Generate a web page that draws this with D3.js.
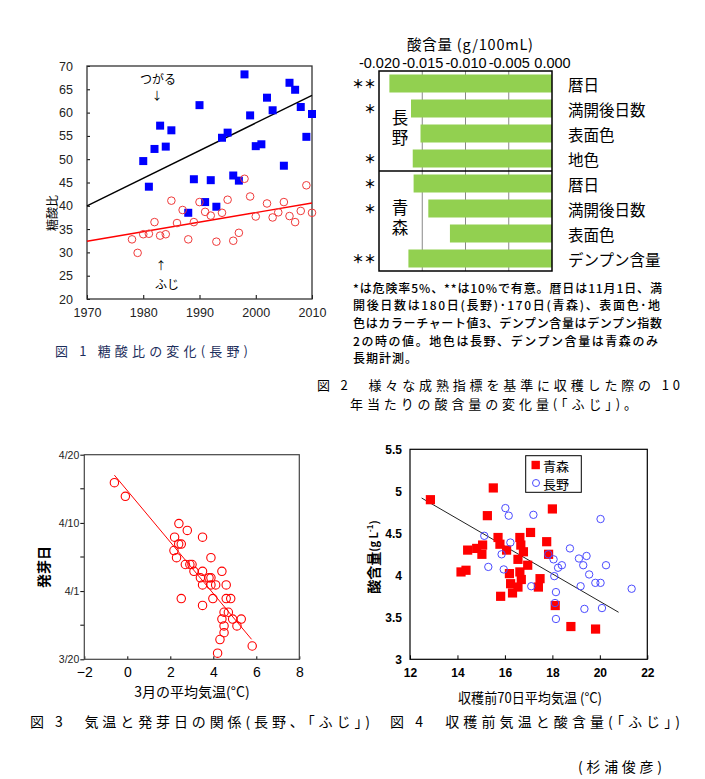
<!DOCTYPE html>
<html><head><meta charset="utf-8">
<script src="https://cdn.jsdelivr.net/npm/d3@7"></script>
<style>body{margin:0;background:#fff}svg{display:block}</style>
</head><body>
<script>
// ---------- DATA ----------
// Fig 1: sugar/acid ratio (Nagano)
const fig1Tsugaru = [[1980,49.6],[1981,44.1],[1982,52.2],[1983,57.2],[1984,52.7],[1985,56.2],[1988,38.5],[1989,45.7],[1990,61.6],[1991,40.8],[1992,45.5],[1993,39.8],[1994,54.6],[1995,55.7],[1996,46.5],[1997,45.4],[1998,68.2],[1999,59.4],[2000,52.8],[2001,53.2],[2002,63.2],[2003,60.5],[2005,48.6],[2006,66.4],[2007,64.9],[2008,61.2],[2009,54.8],[2010,59.7]];
const fig1Fuji = [[1978,32.8],[1979,29.9],[1980,33.9],[1981,34.0],[1982,36.5],[1983,33.6],[1984,33.9],[1985,41.1],[1986,36.3],[1987,39.1],[1988,32.8],[1989,36.5],[1990,40.8],[1991,38.7],[1992,37.9],[1993,32.3],[1994,38.5],[1995,41.3],[1996,32.5],[1997,34.2],[1998,45.8],[1999,42.0],[2000,37.7],[2002,40.5],[2003,37.5],[2004,38.6],[2005,40.8],[2006,37.8],[2007,36.5],[2008,38.9],[2009,44.4],[2010,38.5]];
const fig1TrendTsugaru = [[1970,40.0],[2010,63.7]];
const fig1TrendFuji = [[1970,32.4],[2010,40.6]];
const fig1YTicks = [20,25,30,35,40,45,50,55,60,65,70];
const fig1XTicks = [1970,1980,1990,2000,2010];

// Fig 2: change in acid content per 10 years
const fig2Categories = ["暦日","満開後日数","表面色","地色","暦日","満開後日数","表面色","デンプン含量"];
const fig2Values = [-0.0188,-0.0163,-0.0152,-0.0161,-0.0160,-0.0143,-0.0118,-0.0166];
const fig2Stars = ["＊＊","＊","","＊","＊","＊","","＊＊"];
const fig2Groups = ["長野","青森"];
const fig2XTicks = [-0.020,-0.015,-0.010,-0.005,0.000];
const fig2Footnote = ["*は危険率5%、**は10%で有意。暦日は11月1日、満","開後日数は180日(長野)･170日(青森)、表面色･地","色はカラーチャート値3、デンプン含量はデンプン指数","2の時の値。地色は長野、デンプン含量は青森のみ","長期計測。"];

// Fig 3: March mean temperature vs budding date (axis units: 0=3/20, 10=4/1, 20=4/10, 30=4/20)
const fig3Points = [[-0.60,25.9],[-0.09,23.9],[2.40,19.9],[2.79,18.9],[2.20,17.9],[3.50,17.9],[2.39,16.9],[2.51,16.9],[2.17,15.95],[2.29,14.9],[3.89,14.9],[2.70,13.9],[2.91,13.9],[3.01,13.9],[3.10,12.9],[3.50,12.9],[4.40,12.9],[3.40,11.95],[3.80,11.95],[3.89,11.95],[3.50,10.9],[3.89,10.9],[4.11,10.9],[4.60,10.9],[2.51,8.9],[3.98,8.9],[4.60,8.9],[4.81,8.9],[3.50,7.9],[4.50,6.9],[4.70,6.9],[4.40,5.9],[4.90,5.9],[5.30,5.9],[4.50,4.9],[5.10,4.9],[4.50,3.9],[4.31,2.9],[4.20,0.9],[5.81,1.95]];
const fig3Trend = [[-0.60,27.0],[5.78,2.93]];
const fig3YTicks = [0,10,20,30];
const fig3YLabels = ["3/20","4/1","4/10","4/20"];
const fig3YMinor = [5,15,25];
const fig3XTicks = [-2,0,2,4,6,8];

// Fig 4: mean temperature 70 days before harvest vs acid content
const fig4Aomori = [[12.86,4.90],[15.51,5.04],[15.26,4.71],[18.0,4.79],[17.08,4.51],[15.71,4.45],[16.63,4.45],[15.79,4.37],[15.06,4.36],[16.67,4.36],[14.81,4.32],[14.43,4.30],[16.07,4.30],[16.78,4.28],[15.03,4.25],[17.76,4.40],[17.84,4.25],[16.55,4.19],[16.96,4.12],[14.15,4.04],[14.36,4.06],[16.19,4.02],[16.63,4.04],[16.69,3.95],[17.48,3.96],[16.24,3.90],[16.55,3.86],[17.41,3.86],[16.32,3.79],[15.82,3.75],[18.12,3.64],[18.78,3.39],[19.82,3.36]];
const fig4Nagano = [[16.02,4.80],[16.16,4.71],[17.20,4.72],[20.03,4.67],[15.13,4.47],[16.23,4.39],[18.74,4.32],[15.86,4.25],[17.83,4.25],[19.44,4.23],[19.12,4.20],[18.05,4.19],[15.30,4.10],[19.30,4.12],[20.26,4.12],[18.40,4.12],[18.24,4.09],[15.95,4.07],[19.55,4.01],[18.08,3.99],[19.81,3.91],[20.03,3.91],[17.11,3.87],[19.19,3.87],[21.34,3.84],[18.15,3.80],[18.11,3.67],[19.35,3.60],[20.09,3.61],[18.15,3.48]];
const fig4Trend = [[12.49,4.92],[20.79,3.56]];
const fig4YTicks = [3,3.5,4,4.5,5,5.5];
const fig4XTicks = [12,14,16,18,20,22];

// ---------- DRAW ----------
const JP = "'Noto Sans CJK JP','Noto Sans',sans-serif";
const LAT = "'Liberation Sans',Arial,sans-serif";
const svg = d3.select("body").append("svg").attr("width",705).attr("height",779);
svg.append("rect").attr("width",705).attr("height",779).attr("fill","#fff");

function styleAxis(g, size, color, family){
  g.select(".domain").remove();
  g.selectAll("text").attr("font-size",size).attr("fill",color||"#000").attr("font-family",family||LAT);
  g.selectAll("line").attr("stroke","#000");
}

// ===== Fig 1 =====
{
  const x = d3.scaleLinear([1970,2010],[87,312]);
  const y = d3.scaleLinear([20,70],[299,66]);
  const g = svg.append("g");
  const ax = g.append("g").attr("transform","translate(87,0)")
    .call(d3.axisLeft(y).tickValues(fig1YTicks).tickSize(-3).tickPadding(14).tickFormat(d=>String(d)));
  styleAxis(ax,12.5,"#222");
  const bx = g.append("g").attr("transform","translate(0,299)")
    .call(d3.axisBottom(x).tickValues(fig1XTicks).tickSize(-4).tickPadding(9).tickFormat(d=>String(d)));
  styleAxis(bx,12.5,"#222");
  g.append("rect").attr("x",87).attr("y",66).attr("width",225).attr("height",233)
    .attr("fill","none").attr("stroke","#333").attr("stroke-width",1.3);
  const line = d3.line().x(d=>x(d[0])).y(d=>y(d[1]));
  g.append("path").attr("d",line(fig1TrendTsugaru)).attr("stroke","#000").attr("stroke-width",1.4).attr("fill","none");
  g.append("path").attr("d",line(fig1TrendFuji)).attr("stroke","#ff0000").attr("stroke-width",1.4).attr("fill","none");
  g.selectAll(".ts").data(fig1Tsugaru).join("rect")
    .attr("x",d=>x(d[0])-4).attr("y",d=>y(d[1])-4).attr("width",8).attr("height",8).attr("fill","#0000ff");
  g.selectAll(".fj").data(fig1Fuji).join("circle")
    .attr("cx",d=>x(d[0])).attr("cy",d=>y(d[1])).attr("r",3.8)
    .attr("fill","none").attr("stroke","#f03a3a").attr("stroke-width",1);
  g.append("text").attr("transform","translate(51,213) rotate(-90)").attr("text-anchor","middle")
    .attr("dominant-baseline","central").attr("font-family",JP).attr("font-size",12).text("糖酸比");
  g.append("text").attr("x",158).attr("y",78).attr("text-anchor","middle").attr("dominant-baseline","central")
    .attr("font-family",JP).attr("font-size",12).text("つがる");
  g.append("text").attr("x",157).attr("y",95).attr("text-anchor","middle").attr("dominant-baseline","central")
    .attr("font-family",JP).attr("font-size",11).text("↓");
  g.append("text").attr("x",161).attr("y",265).attr("text-anchor","middle").attr("dominant-baseline","central")
    .attr("font-family",JP).attr("font-size",11).text("↑");
  g.append("text").attr("x",167).attr("y",283).attr("text-anchor","middle").attr("dominant-baseline","central")
    .attr("font-family",JP).attr("font-size",12).text("ふじ");
  g.append("text").attr("x",55).attr("y",350).attr("dominant-baseline","central")
    .attr("font-family",JP).attr("font-size",13).attr("fill","#1c2e5c")
    .attr("textLength",193).attr("lengthAdjust","spacing").text("図 1 糖酸比の変化(長野)");
}

// ===== Fig 2 =====
{
  const x = d3.scaleLinear([-0.020,0],[379,552]);
  const idx = d3.range(fig2Categories.length);
  const y = d3.scaleBand(idx,[71,271]).paddingInner(0.28).paddingOuter(0.14);
  const g = svg.append("g");
  g.selectAll(".grid").data(fig2XTicks.slice(1,4)).join("line")
    .attr("x1",d=>x(d)).attr("x2",d=>x(d)).attr("y1",71).attr("y2",271).attr("stroke","#888").attr("stroke-width",1);
  g.selectAll(".bar").data(idx).join("rect")
    .attr("x",i=>x(fig2Values[i])).attr("y",i=>y(i)).attr("width",i=>x(0)-x(fig2Values[i]))
    .attr("height",y.bandwidth()).attr("fill","#92d050");
  g.append("line").attr("x1",379).attr("x2",552).attr("y1",171).attr("y2",171).attr("stroke","#000").attr("stroke-width",1.3);
  g.append("rect").attr("x",379).attr("y",71).attr("width",173).attr("height",200)
    .attr("fill","none").attr("stroke","#000").attr("stroke-width",1.5);
  const tx = g.append("g").attr("transform","translate(0,71)")
    .call(d3.axisTop(x).tickValues(fig2XTicks).tickSize(0).tickPadding(3).tickFormat(d=>d.toFixed(3)));
  styleAxis(tx,14.5,"#000");
  g.append("text").attr("x",470).attr("y",43).attr("text-anchor","middle").attr("dominant-baseline","central")
    .attr("font-family",JP).attr("font-size",14.5).attr("textLength",126).attr("lengthAdjust","spacing").text("酸含量 (g/100mL)");
  g.selectAll(".cat").data(idx).join("text")
    .attr("x",568).attr("y",i=>y(i)+y.bandwidth()/2).attr("dominant-baseline","central")
    .attr("font-family",JP).attr("font-size",15.5).text(i=>fig2Categories[i]);
  g.selectAll(".star").data(idx).join("text")
    .attr("x",376).attr("y",i=>y(i)+y.bandwidth()/2).attr("text-anchor","end").attr("dominant-baseline","central")
    .attr("font-family",JP).attr("font-size",12).attr("font-weight","bold").text(i=>fig2Stars[i]);
  // group labels (vertical text)
  const groupCenters = [y(2)+y.bandwidth()/2-4, y(5)+y.bandwidth()/2+11];
  fig2Groups.forEach((t,i)=>{
    g.append("text").attr("x",400).attr("y",groupCenters[i])
      .attr("writing-mode","vertical-rl").style("writing-mode","vertical-rl")
      .attr("text-anchor","middle").attr("dominant-baseline","central")
      .attr("letter-spacing",4).attr("font-family",JP).attr("font-size",16.5).text(t);
  });
  const fnY = [287,304,322,340,357];
  const fnW = [309,307,309,305,64];
  fig2Footnote.forEach((t,i)=>{
    g.append("text").attr("x",353).attr("y",fnY[i]).attr("dominant-baseline","central")
      .attr("font-family",JP).attr("font-size",12).attr("font-weight","500")
      .attr("textLength",fnW[i]).attr("lengthAdjust","spacing").text(t);
  });
  g.append("text").attr("x",317).attr("y",384).attr("dominant-baseline","central")
    .attr("font-family",JP).attr("font-size",13).attr("textLength",363).attr("lengthAdjust","spacing")
    .text("図 2　様々な成熟指標を基準に収穫した際の 10");
  g.append("text").attr("x",350).attr("y",403).attr("dominant-baseline","central")
    .attr("font-family",JP).attr("font-size",13).attr("textLength",287).attr("lengthAdjust","spacing")
    .text("年当たりの酸含量の変化量(「ふじ」)。");
}

// ===== Fig 3 =====
{
  const x = d3.scaleLinear([-2,8],[84.3,299.3]);
  const y = d3.scaleLinear([0,30],[659.3,454.7]);
  const g = svg.append("g");
  const ay = g.append("g").attr("transform","translate(84.3,0)")
    .call(d3.axisLeft(y).tickValues(fig3YTicks).tickSize(4).tickPadding(1).tickFormat((d,i)=>fig3YLabels[i]));
  styleAxis(ay,10.5,"#222");
  g.selectAll(".minor").data(fig3YMinor).join("line")
    .attr("x1",80.3).attr("x2",84.3).attr("y1",d=>y(d)).attr("y2",d=>y(d)).attr("stroke","#000");
  const ax = g.append("g").attr("transform","translate(0,659.3)")
    .call(d3.axisBottom(x).tickValues(fig3XTicks).tickSize(-3).tickPadding(8));
  styleAxis(ax,14,"#000");
  g.append("rect").attr("x",84.3).attr("y",454.7).attr("width",215).attr("height",204.6)
    .attr("fill","none").attr("stroke","#444").attr("stroke-width",1.2);
  const line = d3.line().x(d=>x(d[0])).y(d=>y(d[1]));
  g.append("path").attr("d",line(fig3Trend)).attr("stroke","#ff0000").attr("stroke-width",1).attr("fill","none");
  g.selectAll(".p3").data(fig3Points).join("circle")
    .attr("cx",d=>x(d[0])).attr("cy",d=>y(d[1])).attr("r",4.2)
    .attr("fill","none").attr("stroke","#ff0000").attr("stroke-width",1.1);
  g.append("text").attr("x",192).attr("y",691).attr("text-anchor","middle").attr("dominant-baseline","central")
    .attr("font-family",JP).attr("font-size",14).text("3月の平均気温(°C)");
  g.append("text").attr("transform","translate(43,567) rotate(-90)").attr("text-anchor","middle")
    .attr("dominant-baseline","central").attr("font-family",JP).attr("font-size",14).attr("font-weight","bold").text("発芽日");
  g.append("text").attr("x",30).attr("y",721).attr("dominant-baseline","central")
    .attr("font-family",JP).attr("font-size",14).attr("textLength",340).attr("lengthAdjust","spacing")
    .text("図 3　気温と発芽日の関係(長野、「ふじ」)");
}

// ===== Fig 4 =====
{
  const x = d3.scaleLinear([12,22],[410,647.3]);
  const y = d3.scaleLinear([3,5.5],[659.3,449.3]);
  const g = svg.append("g");
  const ay = g.append("g").attr("transform","translate(410,0)")
    .call(d3.axisLeft(y).tickValues(fig4YTicks).tickSize(0).tickPadding(8).tickFormat(d=>String(d)));
  styleAxis(ay,12,"#000");
  ay.selectAll("text").attr("font-weight","bold");
  const ax = g.append("g").attr("transform","translate(0,659.3)")
    .call(d3.axisBottom(x).tickValues(fig4XTicks).tickSize(-4).tickPadding(9));
  styleAxis(ax,12,"#000");
  ax.selectAll("text").attr("font-weight","bold");
  g.append("rect").attr("x",410).attr("y",449.3).attr("width",237.3).attr("height",210)
    .attr("fill","none").attr("stroke","#000").attr("stroke-width",1.2);
  const line = d3.line().x(d=>x(d[0])).y(d=>y(d[1]));
  g.append("path").attr("d",line(fig4Trend)).attr("stroke","#222").attr("stroke-width",1).attr("fill","none");
  g.selectAll(".ao").data(fig4Aomori).join("rect")
    .attr("x",d=>x(d[0])-4.6).attr("y",d=>y(d[1])-4.6).attr("width",9.2).attr("height",9.2).attr("fill","#ff0000");
  g.selectAll(".na").data(fig4Nagano).join("circle")
    .attr("cx",d=>x(d[0])).attr("cy",d=>y(d[1])).attr("r",3.7)
    .attr("fill","none").attr("stroke","#4b4bff").attr("stroke-width",1);
  // legend
  g.append("rect").attr("x",525.7).attr("y",455.7).attr("width",55.6).attr("height",36.6)
    .attr("fill","#fff").attr("stroke","#000").attr("stroke-width",1);
  g.append("rect").attr("x",531.5).attr("y",460.8).attr("width",8.4).attr("height",8.4).attr("fill","#ff0000");
  g.append("circle").attr("cx",536).attr("cy",483).attr("r",3.5).attr("fill","none").attr("stroke","#4b4bff");
  g.append("text").attr("x",543).attr("y",465).attr("dominant-baseline","central").attr("font-family",JP).attr("font-size",13).text("青森");
  g.append("text").attr("x",543).attr("y",483).attr("dominant-baseline","central").attr("font-family",JP).attr("font-size",13).text("長野");
  g.append("text").attr("x",530).attr("y",697).attr("text-anchor","middle").attr("dominant-baseline","central")
    .attr("font-family",JP).attr("font-size",14).attr("textLength",144).attr("lengthAdjust","spacingAndGlyphs")
    .text("収穫前70日平均気温 (°C)");
  const yl = g.append("text").attr("transform","translate(373,557) rotate(-90)").attr("text-anchor","middle")
    .attr("dominant-baseline","central").attr("font-family",JP).attr("font-size",14).attr("font-weight","bold");
  yl.append("tspan").text("酸含量");
  yl.append("tspan").attr("font-size",11).text("(g L");
  yl.append("tspan").attr("font-size",8).attr("dy",-4).text("-1");
  yl.append("tspan").attr("font-size",11).attr("dy",4).text(")");
  g.append("text").attr("x",390).attr("y",721).attr("dominant-baseline","central")
    .attr("font-family",JP).attr("font-size",14).attr("textLength",290).attr("lengthAdjust","spacing")
    .text("図 4　収穫前気温と酸含量(「ふじ」)");
  g.append("text").attr("x",578).attr("y",766).attr("dominant-baseline","central")
    .attr("font-family",JP).attr("font-size",14).attr("textLength",84).attr("lengthAdjust","spacing")
    .text("(杉浦俊彦)");
}
</script>
</body></html>
